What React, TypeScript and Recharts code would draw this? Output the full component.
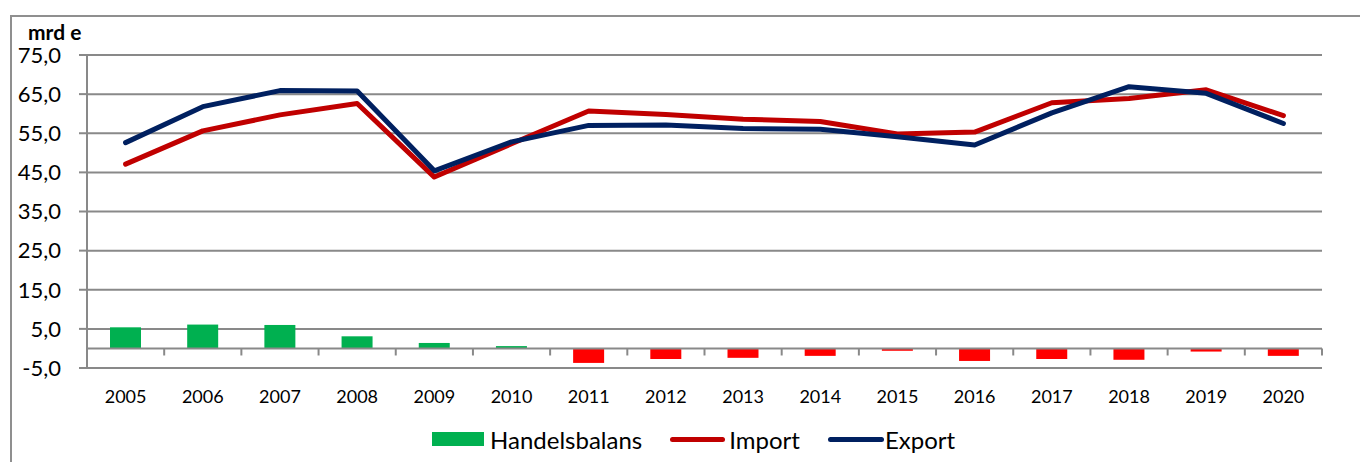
import React from 'react';
import {
  ComposedChart,
  Bar,
  Line,
  XAxis,
  YAxis,
  CartesianGrid,
  ReferenceLine,
  Legend,
  Cell,
} from 'recharts';

const years = ['2005', '2006', '2007', '2008', '2009', '2010', '2011', '2012', '2013', '2014', '2015', '2016', '2017', '2018', '2019', '2020'];
const importValues = [47.1, 55.6, 59.7, 62.6, 43.8, 52.3, 60.7, 59.8, 58.6, 58.0, 54.8, 55.3, 62.8, 63.9, 66.1, 59.5];
const exportValues = [52.6, 61.8, 65.9, 65.8, 45.4, 52.8, 57.0, 57.1, 56.2, 56.0, 54.1, 52.0, 60.2, 66.9, 65.2, 57.5];
const balansValues = [5.4, 6.1, 6.0, 3.1, 1.4, 0.6, -3.7, -2.7, -2.4, -1.9, -0.6, -3.2, -2.7, -2.9, -0.8, -1.9];
const yTicks = [-5, 5, 15, 25, 35, 45, 55, 65, 75];
const unitLabel = 'mrd e';
const seriesNames = { balans: 'Handelsbalans', import: 'Import', export: 'Export' };

const data = years.map((year, i) => ({
  year,
  balans: balansValues[i],
  import: importValues[i],
  export: exportValues[i],
}));

const GREEN = '#00B050';
const RED_BAR = '#FF0000';
const IMPORT_COLOR = '#C00000';
const EXPORT_COLOR = '#002060';
const GRID = '#898989';
const FONT = 'Lato, "Open Sans", sans-serif';

const fmt = (v: number) => v.toFixed(1).replace('.', ',');

const LegendContent = () => (
  <div
    style={{
      display: 'flex',
      alignItems: 'center',
      height: 30,
      fontFamily: FONT,
      fontSize: 24,
      color: '#000',
      whiteSpace: 'nowrap',
    }}
  >
    <span style={{ display: 'inline-block', width: 52, height: 14, background: GREEN, marginRight: 6 }} />
    <span style={{ marginRight: 28 }}>{seriesNames.balans}</span>
    <span style={{ display: 'inline-block', width: 55, height: 5, borderRadius: 3, background: IMPORT_COLOR, marginRight: 4 }} />
    <span style={{ marginRight: 28 }}>{seriesNames.import}</span>
    <span style={{ display: 'inline-block', width: 56, height: 5, borderRadius: 3, background: EXPORT_COLOR, marginRight: 1 }} />
    <span>{seriesNames.export}</span>
  </div>
);

const boundaries = years.slice(1);

export default function App() {
  return (
    <div
      style={{
        position: 'absolute',
        left: 0,
        top: 0,
        width: 1360,
        height: 462,
        overflow: 'hidden',
        background: '#fff',
      }}
    >
      <div
        style={{
          position: 'absolute',
          left: 10,
          top: 15,
          width: 1400,
          height: 500,
          border: '2px solid #8f8f8f',
          boxSizing: 'border-box',
        }}
      />
      <div
        style={{
          position: 'absolute',
          left: 28,
          top: 22,
          fontFamily: FONT,
          fontWeight: 'bold',
          fontSize: 21,
          lineHeight: '20px',
          color: '#000',
        }}
      >
        {unitLabel}
      </div>
      <div style={{ position: 'absolute', left: 0, top: 0 }}>
        <ComposedChart
          width={1360}
          height={462}
          data={data}
          margin={{ top: 55, right: 38, bottom: 8, left: 0 }}
          barSize={31}
        >
          <CartesianGrid vertical={false} stroke={GRID} strokeWidth={2} />
          <XAxis
            dataKey="year"
            axisLine={false}
            tickLine={false}
            tickSize={0}
            tickMargin={22}
            height={56}
            interval={0}
            tick={{ fill: '#000', fontSize: 18, fontFamily: FONT }}
          />
          <YAxis
            domain={[-5, 75]}
            ticks={yTicks}
            interval={0}
            width={87}
            tickFormatter={fmt}
            axisLine={{ stroke: GRID, strokeWidth: 2 }}
            tickLine={{ stroke: GRID, strokeWidth: 2 }}
            tickSize={8}
            tickMargin={18}
            tick={{ fill: '#000', fontSize: 22, fontFamily: FONT }}
          />
          <ReferenceLine y={0} stroke={GRID} strokeWidth={2} />
          {boundaries.map((b) => (
            <ReferenceLine
              key={b}
              segment={[
                { x: b, y: 0 },
                { x: b, y: -1.8 },
              ]}
              position="start"
              stroke={GRID}
              strokeWidth={2}
            />
          ))}
          <ReferenceLine
            segment={[
              { x: years[years.length - 1], y: 0 },
              { x: years[years.length - 1], y: -1.8 },
            ]}
            position="end"
            stroke={GRID}
            strokeWidth={2}
          />
          <Legend
            verticalAlign="bottom"
            content={<LegendContent />}
            wrapperStyle={{ left: 432, width: 600, bottom: 8, height: 30 }}
          />
          <Bar dataKey="balans" name={seriesNames.balans} isAnimationActive={false}>
            {data.map((d) => (
              <Cell key={d.year} fill={d.balans >= 0 ? GREEN : RED_BAR} />
            ))}
          </Bar>
          <Line
            type="linear"
            dataKey="import"
            name={seriesNames.import}
            stroke={IMPORT_COLOR}
            strokeWidth={5}
            strokeLinecap="round"
            strokeLinejoin="round"
            dot={false}
            activeDot={false}
            isAnimationActive={false}
          />
          <Line
            type="linear"
            dataKey="export"
            name={seriesNames.export}
            stroke={EXPORT_COLOR}
            strokeWidth={5}
            strokeLinecap="round"
            strokeLinejoin="round"
            dot={false}
            activeDot={false}
            isAnimationActive={false}
          />
        </ComposedChart>
      </div>
    </div>
  );
}
